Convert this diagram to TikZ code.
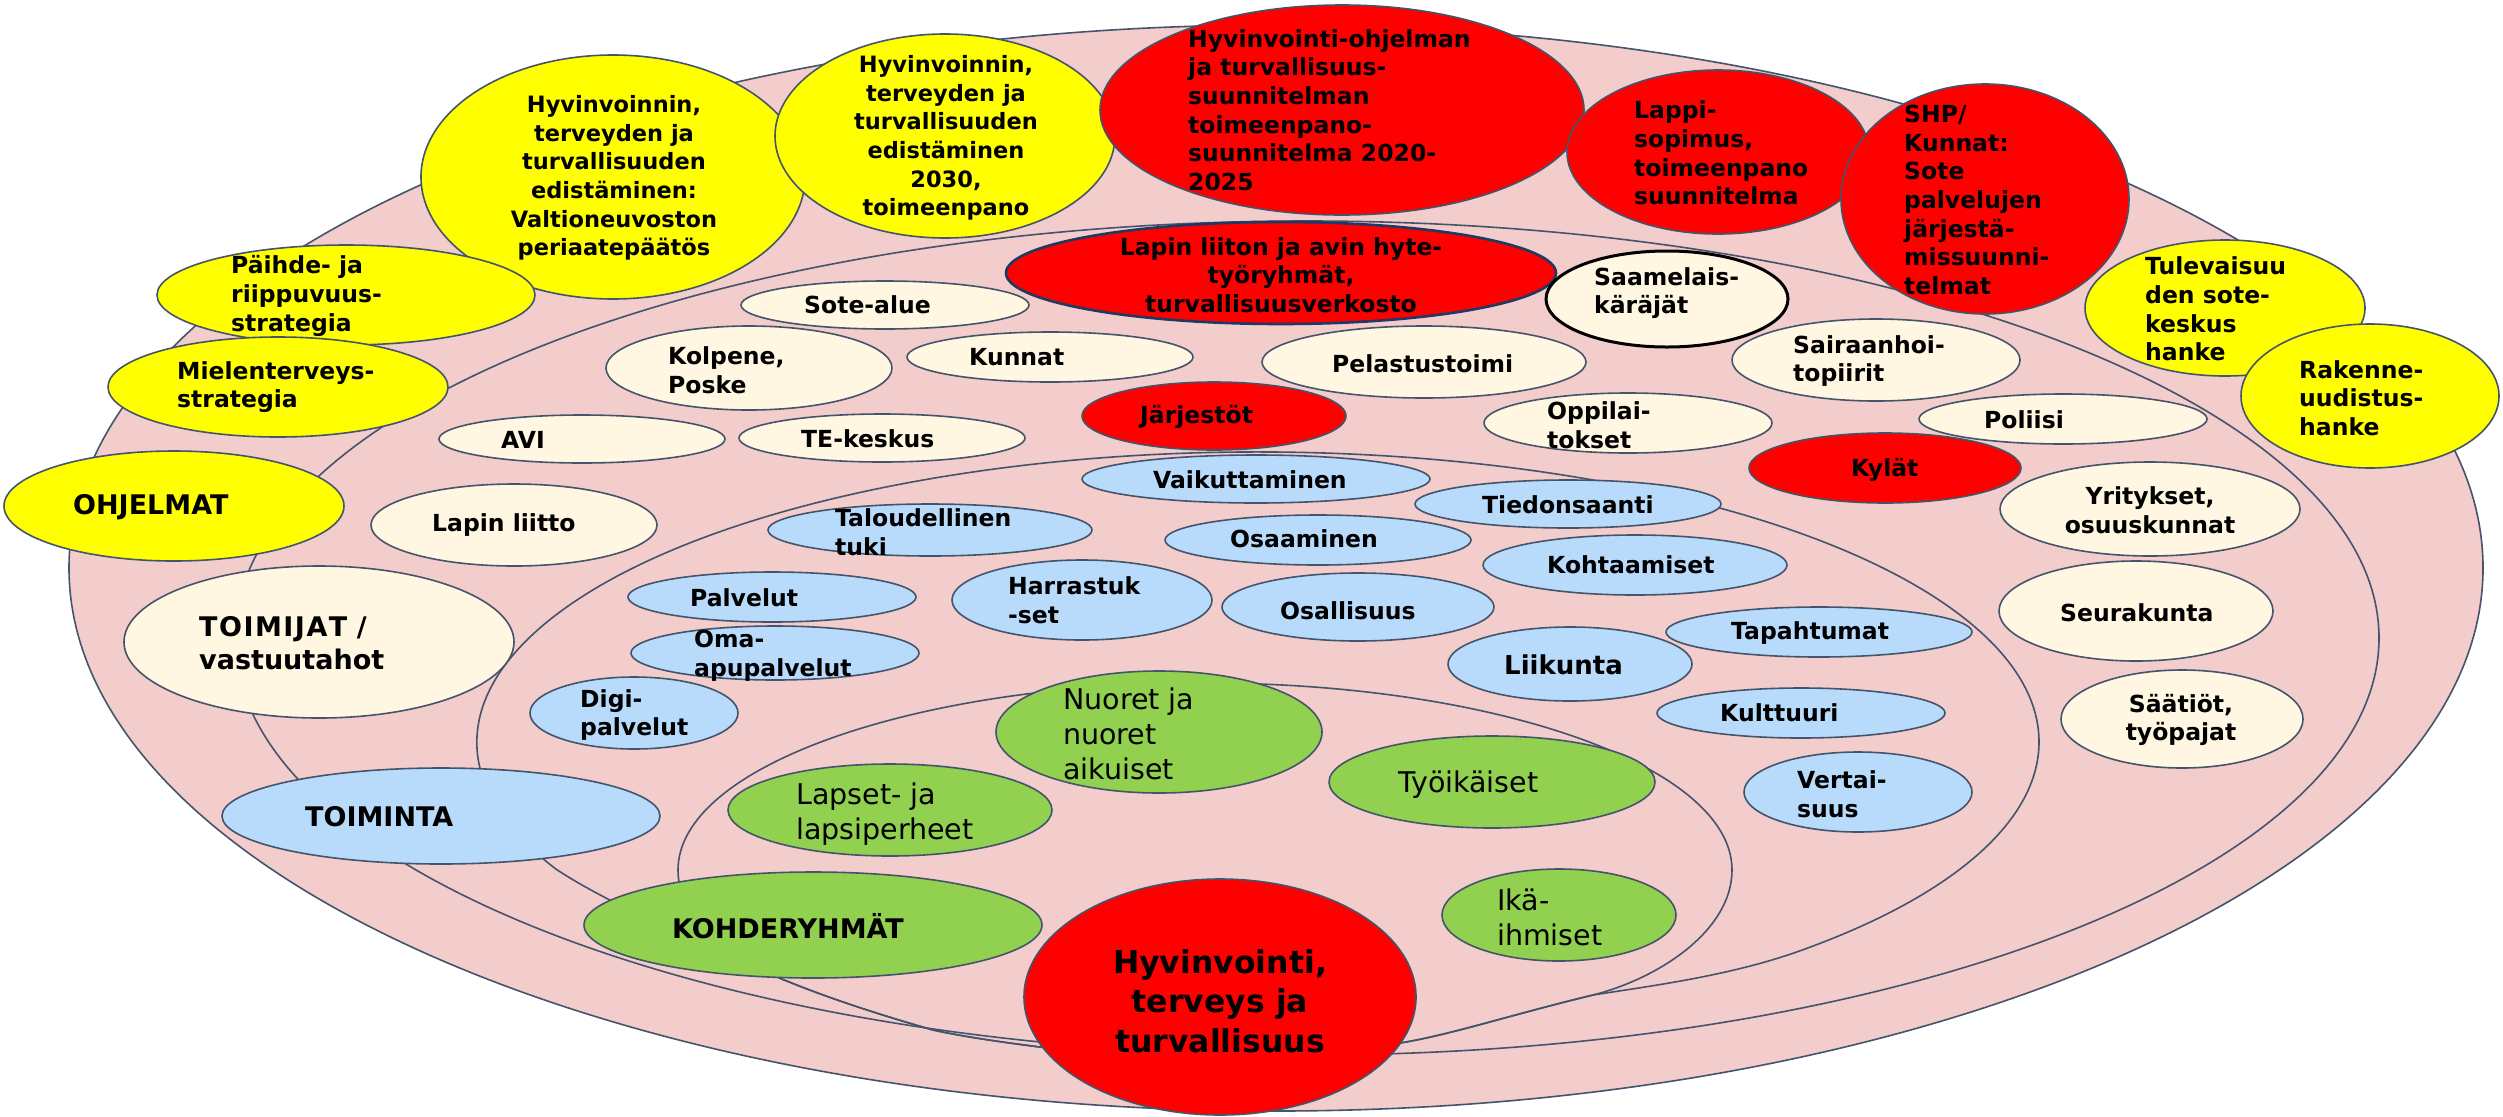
\documentclass[tikz,border=0pt]{standalone}
\usepackage{fontspec}
\setmainfont{DejaVu Sans}
\usetikzlibrary{shapes.geometric}
\definecolor{edge}{RGB}{68,84,106}
\definecolor{pinkbg}{RGB}{243,204,204}
\definecolor{yel}{RGB}{255,255,0}
\definecolor{rd}{RGB}{255,0,0}
\definecolor{cream}{RGB}{255,247,225}
\definecolor{lblue}{RGB}{184,219,252}
\definecolor{grn}{RGB}{146,208,80}
\definecolor{navy}{RGB}{31,56,100}
\newcommand{\EN}[6]{\node[#6, minimum width={2*#4bp}, minimum height={2*#5bp}] (#1) at (#2,#3) {};}
\begin{document}
\begin{tikzpicture}[x=1bp,y=-1bp,
  ring/.style={draw=edge, line width=1.6bp},
  nd/.style={ellipse, draw=edge, line width=1.6bp, inner sep=0pt, outer sep=0pt},
  ye/.style={nd, fill=yel},
  re/.style={nd, fill=rd},
  cr/.style={nd, fill=cream},
  bl/.style={nd, fill=lblue},
  gr/.style={nd, fill=grn},
  tx/.style={font=\fontsize{23.5bp}{28.6bp}\selectfont\bfseries, align=left, anchor=west, inner sep=0pt},
  txy/.style={font=\fontsize{22.5bp}{28.6bp}\selectfont\bfseries, align=center, anchor=center, inner sep=0pt},
  txb/.style={font=\fontsize{27bp}{32.5bp}\selectfont\bfseries, align=left, anchor=west, inner sep=0pt},
  txg/.style={font=\fontsize{28.5bp}{35bp}\selectfont, align=left, anchor=west, inner sep=0pt}
]
\useasboundingbox (0,0) rectangle (2503,1116);
\fill[white] (0,0) rectangle (2503,1116);
% rings
\draw[ring, fill=pinkbg] (1276,568) ellipse [x radius=1207, y radius=543];
\draw[ring] (1307,638) ellipse [x radius=1072, y radius=417];
% ring 3 (activities)
\draw[ring] (1258,742) ++(154:781 and 290)
  arc[start angle=154, end angle=406, x radius=781, y radius=290]
  .. controls (1730,976) and (1650,986) .. (1593,995)
  .. controls (1510,1015) and (1450,1035) .. (1400,1043)
  .. controls (1330,1055) and (1110,1055) .. (1040,1047)
  .. controls (1000,1042) and (960,1036) .. (933,1030)
  .. controls (870,1012) and (820,995) .. (777,977)
  .. controls (700,942) and (610,905) .. cycle;
% ring 4 (target groups)
\draw[ring] (678,870)
  arc[start angle=180, end angle=360, x radius=527, y radius=187]
  .. controls (1732,930) and (1660,978) .. (1593,995)
  .. controls (1510,1015) and (1450,1035) .. (1400,1043)
  .. controls (1330,1055) and (1110,1055) .. (1040,1047)
  .. controls (1000,1042) and (960,1036) .. (933,1030)
  .. controls (870,1012) and (820,995) .. (777,977)
  .. controls (720,945) and (678,915) .. cycle;

% yellow programmes
\EN{vnp}{613}{177}{192}{122}{ye}
\EN{h2030}{945}{136}{170}{102}{ye}
\EN{paihde}{346}{295}{189}{50}{ye}
\EN{mielen}{278}{387}{170}{50}{ye}
\EN{ohjelmat}{174}{506}{170}{55}{ye}
% red programmes
\EN{hohj}{1342}{110}{242}{105}{re}
\EN{lappi}{1718}{152}{151}{82}{re}
\EN{shp}{1985}{199}{144}{115}{re}
\EN{tulev}{2225}{308}{140}{68}{ye}
\EN{rakenne}{2370}{396}{129}{72}{ye}

% actors
\EN{lapinliiton}{1281}{273}{275}{51}{re, draw=navy, line width=2.6bp}
\EN{saame}{1667}{299}{121}{48}{cr, draw=black, line width=3bp}
\EN{sote}{885}{305}{144}{24}{cr}
\EN{kolpene}{749}{368}{143}{42}{cr}
\EN{kunnat}{1050}{357}{143}{25}{cr}
\EN{avi}{582}{439}{143}{24}{cr}
\EN{te}{882}{438}{143}{24}{cr}
\EN{lliitto}{514}{525}{143}{41}{cr}
\EN{jarj}{1214}{416}{132}{34}{re}
\EN{pelastus}{1424}{362}{162}{36}{cr}
\EN{sairaan}{1876}{360}{144}{41}{cr}
\EN{oppil}{1628}{423}{144}{30}{cr}
\EN{poliisi}{2063}{419}{144}{25}{cr}
\EN{kylat}{1885}{468}{136}{35}{re}
\EN{yrit}{2150}{509}{150}{47}{cr}
\EN{seura}{2136}{611}{137}{50}{cr}
\EN{saatiot}{2182}{719}{121}{49}{cr}
\EN{toimijat}{319}{642}{195}{76}{cr}

% activities
\EN{vaik}{1256}{479}{174}{24}{bl}
\EN{osaam}{1318}{540}{153}{25}{bl}
\EN{tied}{1568}{504}{153}{24}{bl}
\EN{talou}{930}{530}{162}{26}{bl}
\EN{kohta}{1635}{565}{152}{30}{bl}
\EN{osall}{1358}{607}{136}{34}{bl}
\EN{tapaht}{1819}{632}{153}{25}{bl}
\EN{liik}{1570}{664}{122}{37}{bl}
\EN{kult}{1801}{713}{144}{25}{bl}
\EN{vert}{1858}{792}{114}{40}{bl}
\EN{palv}{772}{597}{144}{25}{bl}
\EN{oma}{775}{653}{144}{27}{bl}
\EN{harr}{1082}{600}{130}{40}{bl}
\EN{digi}{634}{713}{104}{36}{bl}
\EN{toiminta}{441}{816}{219}{48}{bl}

% target groups
\EN{nuoret}{1159}{732}{163}{61}{gr}
\EN{lapset}{890}{810}{162}{46}{gr}
\EN{tyoik}{1492}{782}{163}{46}{gr}
\EN{ika}{1559}{915}{117}{46}{gr}
\EN{kohde}{813}{925}{229}{53}{gr}
\EN{hyv}{1220}{997}{196}{118}{re}

% texts
\node[txy] (t-vnp) at (614,178) {Hyvinvoinnin,\\terveyden ja\\turvallisuuden\\edistäminen:\\Valtioneuvoston\\periaatepäätös};
\node[txy] (t-h2030) at (946,138) {Hyvinvoinnin,\\terveyden ja\\turvallisuuden\\edistäminen\\2030,\\toimeenpano};
\node[tx] (t-paihde) at (231,296) {Päihde- ja\\riippuvuus-\\strategia};
\node[tx] (t-mielen) at (177,387) {Mielenterveys-\\strategia};
\node[txb] (t-ohjelmat) at (73,507) {OHJELMAT};
\node[tx] (t-hohj) at (1188,110) {Hyvinvointi-ohjelman\\ja turvallisuus-\\suunnitelman\\toimeenpano-\\suunnitelma 2020-\\2025};
\node[tx] (t-lappi) at (1634,153) {Lappi-\\sopimus,\\toimeenpano\\suunnitelma};
\node[tx] (t-shp) at (1904,200) {SHP/\\Kunnat:\\Sote\\palvelujen\\järjestä-\\missuunni-\\telmat};
\node[tx] (t-tulev) at (2145,309) {Tulevaisuu\\den sote-\\keskus\\hanke};
\node[tx] (t-rakenne) at (2299,398) {Rakenne-\\uudistus-\\hanke};

\node[tx, anchor=center, align=center] (t-lapinliiton) at (1281,275) {Lapin liiton ja avin hyte-\\työryhmät,\\turvallisuusverkosto};
\node[tx] (t-saame) at (1594,293) {Saamelais-\\käräjät};
\node[tx] (t-sote) at (804,305) {Sote-alue};
\node[tx] (t-kolpene) at (668,370) {Kolpene,\\Poske};
\node[tx] (t-kunnat) at (969,357) {Kunnat};
\node[tx] (t-avi) at (501,440) {AVI};
\node[tx] (t-te) at (801,439) {TE-keskus};
\node[tx] (t-lliitto) at (432,525) {Lapin liitto};
\node[tx] (t-jarj) at (1140,417) {Järjestöt};
\node[tx] (t-pelastus) at (1332,364) {Pelastustoimi};
\node[tx] (t-sairaan) at (1793,361) {Sairaanhoi-\\topiirit};
\node[tx] (t-oppil) at (1547,425) {Oppilai-\\tokset};
\node[tx] (t-poliisi) at (1984,420) {Poliisi};
\node[tx] (t-kylat) at (1851,470) {Kylät};
\node[tx, anchor=center, align=center] (t-yrit) at (2150,510) {Yritykset,\\osuuskunnat};
\node[tx] (t-seura) at (2060,613) {Seurakunta};
\node[tx, anchor=center, align=center] (t-saatiot) at (2181,720) {Säätiöt,\\työpajat};
\node[txb] (t-toimijat) at (199,643) {T\kern1.5bp O\kern1.5bp I\kern1.5bp M\kern1.5bp I\kern1.5bp J\kern1.5bp A\kern1.5bp T /\\vastuutahot};

\node[tx] (t-vaik) at (1153,480) {Vaikuttaminen};
\node[tx] (t-osaam) at (1230,539) {Osaaminen};
\node[tx] (t-tied) at (1482,505) {Tiedonsaanti};
\node[tx] (t-talou) at (835,532) {Taloudellinen\\tuki};
\node[tx] (t-kohta) at (1547,565) {Kohtaamiset};
\node[tx] (t-osall) at (1280,611) {Osallisuus};
\node[tx] (t-tapaht) at (1731,633) {Tapahtumat};
\node[tx, font=\fontsize{26bp}{30bp}\selectfont\bfseries] (t-liik) at (1504,665) {Liikunta};
\node[tx] (t-kult) at (1720,713) {Kulttuuri};
\node[tx] (t-vert) at (1797,794) {Vertai-\\suus};
\node[tx] (t-palv) at (690,598) {Palvelut};
\node[tx] (t-oma) at (694,656) {Oma-\\apupalvelut};
\node[tx] (t-harr) at (1008,600) {Harrastuk\\-set};
\node[tx] (t-digi) at (580,715) {Digi-\\palvelut};
\node[txb] (t-toiminta) at (305,817) {TOIMINTA};

\node[txg] (t-nuoret) at (1063,734) {Nuoret ja\\nuoret\\aikuiset};
\node[txg] (t-lapset) at (796,814) {Lapset- ja\\lapsiperheet};
\node[txg] (t-tyoik) at (1398,785) {Työikäiset};
\node[txg] (t-ika) at (1497,917) {Ikä-\\ihmiset};
\node[txb] (t-kohde) at (672,926) {KOHDERYHMÄT};
\node[font=\fontsize{31.5bp}{39.5bp}\selectfont\bfseries, align=center, inner sep=0pt] (t-hyv) at (1220,1001) {Hyvinvointi,\\terveys ja\\turvallisuus};
\end{tikzpicture}
\end{document}
